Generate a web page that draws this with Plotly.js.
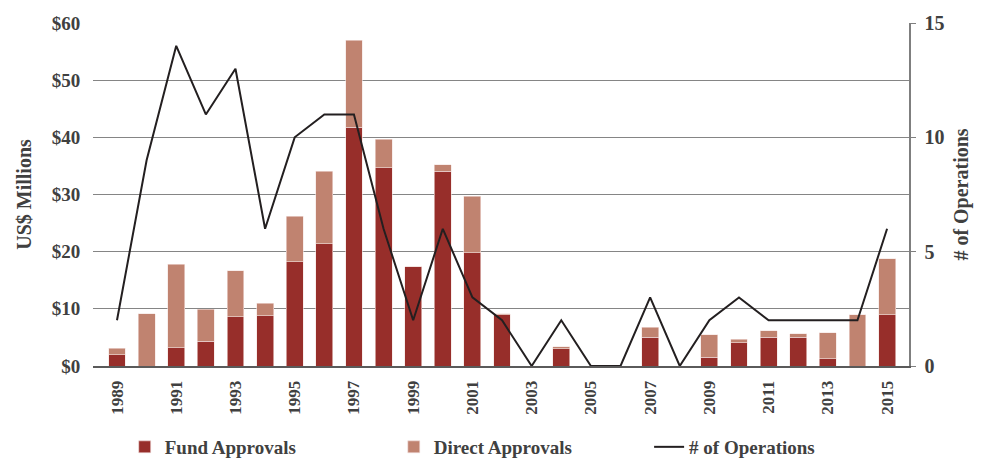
<!DOCTYPE html>
<html>
<head>
<meta charset="utf-8">
<script src="https://cdn.plot.ly/plotly-3.0.1.min.js"></script>
<style>html,body{margin:0;padding:0;background:#fff;}#chart{width:982px;height:461px;}</style>
</head>
<body>
<div id="chart"></div>
<script>
const years = [1989,1990,1991,1992,1993,1994,1995,1996,1997,1998,1999,2000,2001,2002,2003,2004,2005,2006,2007,2008,2009,2010,2011,2012,2013,2014,2015];
const fundApprovals = [2.0,0,3.2,4.3,8.6,8.8,18.2,21.4,41.8,34.7,17.4,34.1,19.8,9.0,0,3.0,0,0,5.0,0,1.5,4.1,5.0,5.0,1.3,0,9.0];
const directApprovals = [1.1,9.1,14.6,5.6,8.1,2.2,8.0,12.7,15.2,5.0,0,1.1,9.9,0.1,0,0.4,0,0,1.8,0,4.0,0.6,1.2,0.6,4.5,9.0,9.8];
const operations = [2,9,14,11,13,6,10,11,11,6,2,6,3,2,0,2,0,0,3,0,2,3,2,2,2,2,6];
const tickYears = [1989,1991,1993,1995,1997,1999,2001,2003,2005,2007,2009,2011,2013,2015];

const FONT = "Liberation Serif, Times New Roman, serif";
const TXT = "#404040";

const traces = [
  {type:'bar', name:'Fund Approvals', x:years, y:fundApprovals, width:0.57,
   marker:{color:'#972e2a', line:{color:'#f3e3e0', width:0.6}}, legend:'legend', hoverinfo:'x+y'},
  {type:'bar', name:'Direct Approvals', x:years, y:directApprovals, width:0.57,
   marker:{color:'#c08370', line:{color:'#f3e3e0', width:0.6}}, legend:'legend2', hoverinfo:'x+y'},
  {type:'scatter', mode:'lines', name:'# of Operations', x:years, y:operations, yaxis:'y2',
   line:{color:'#231f20', width:2}, legend:'legend3'}
];

const legendBase = {orientation:'h', yanchor:'middle', xanchor:'left', xref:'container', yref:'container', y:0.0304,
  font:{family:FONT, size:19, color:TXT, weight:'bold'}, bgcolor:'rgba(0,0,0,0)'};

const layout = {
  width:982, height:461,
  margin:{l:93, r:73, t:23, b:95, autoexpand:false},
  paper_bgcolor:'#fff', plot_bgcolor:'#fff',
  barmode:'stack',
  font:{family:FONT, color:TXT},
  xaxis:{
    range:[1988.19, 2015.74], tickmode:'array', tickvals:tickYears, ticktext:tickYears.map(String),
    tickangle:-90, tickfont:{family:FONT, size:17, color:TXT, weight:'bold'},
    showgrid:false, zeroline:false, showline:true, linecolor:'#5a5a5a', linewidth:2,
    ticks:'outside', ticklen:6, tickcolor:'rgba(0,0,0,0)', fixedrange:true, automargin:false
  },
  yaxis:{
    range:[0,60], dtick:10, tickprefix:'$', tickfont:{family:FONT, size:19, color:TXT, weight:'bold'},
    showgrid:true, gridcolor:'#858585', gridwidth:1, zeroline:false, showline:false,
    ticks:'outside', ticklen:8, tickcolor:'rgba(0,0,0,0)',
    title:{text:'US$ Millions', font:{family:FONT, size:20, color:TXT, weight:'bold'}, standoff:14},
    automargin:false
  },
  yaxis2:{
    overlaying:'y', side:'right', range:[0,15], dtick:5,
    tickfont:{family:FONT, size:20, color:TXT, weight:'bold'},
    showgrid:false, zeroline:false, showline:true, linecolor:'#7f7f7f', linewidth:1.5,
    ticks:'outside', ticklen:5, tickcolor:'#7f7f7f', ticklabelstandoff:5,
    title:{text:'# of Operations', font:{family:FONT, size:20, color:TXT, weight:'bold'}, standoff:10},
    automargin:false
  },
  legend:Object.assign({}, legendBase, {x:0.127}),
  legend2:Object.assign({}, legendBase, {x:0.401}),
  legend3:Object.assign({}, legendBase, {x:0.661}),
  showlegend:true
};

Plotly.newPlot('chart', traces, layout, {displayModeBar:false, staticPlot:true});
</script>
</body>
</html>
